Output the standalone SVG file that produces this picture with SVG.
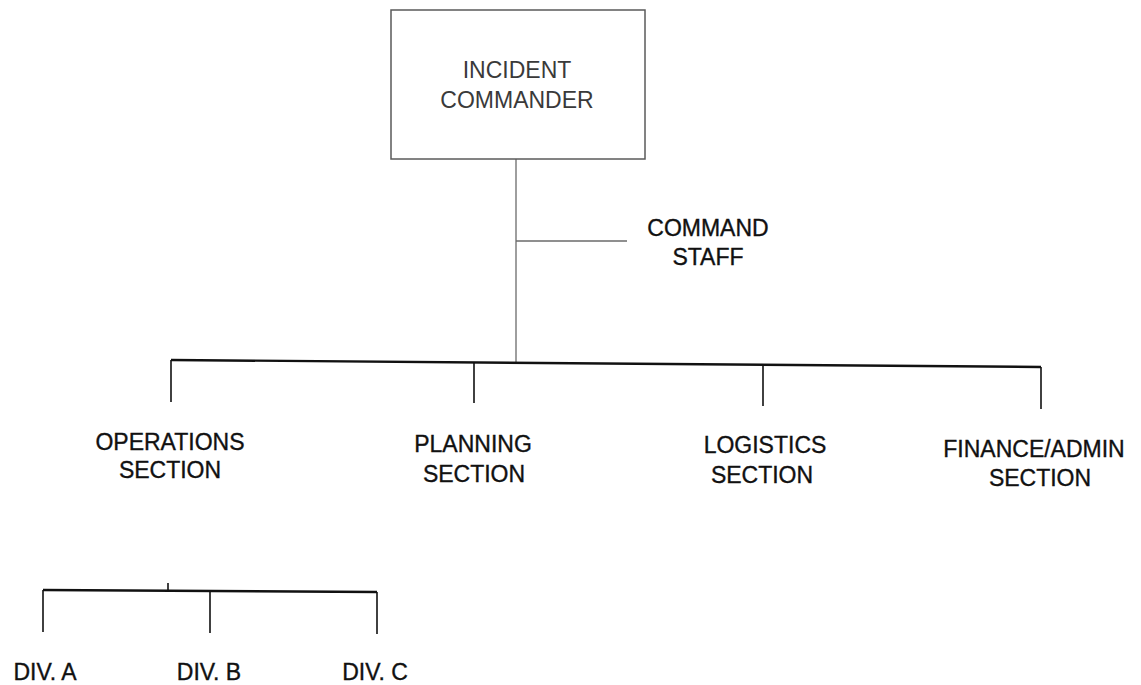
<svg xmlns="http://www.w3.org/2000/svg" width="1141" height="685" viewBox="0 0 1141 685">
<style>
.bg{fill:#ffffff}
.box{fill:#ffffff;stroke:#5a5a5a;stroke-width:1.5}
.thin{stroke:#6a6a6a;stroke-width:1.3;fill:none}
.thick{stroke:#111111;stroke-width:2.4;fill:none}
.med{stroke:#111111;stroke-width:1.6;fill:none}
.t{font-family:"Liberation Sans",Arial,sans-serif;font-size:23px;text-anchor:middle;fill:#111111;stroke:#111111;stroke-width:0.35}
.tg{font-family:"Liberation Sans",Arial,sans-serif;font-size:23px;text-anchor:middle;fill:#3a3a3a}
</style>
<rect class="bg" x="0" y="0" width="1141" height="685"/>
<g id="connectors">
<line class="thin" x1="516" y1="159" x2="516" y2="363"/>
<line class="thin" x1="516" y1="241" x2="627" y2="241"/>
<line class="thick" x1="171" y1="360" x2="1041" y2="367"/>
<line class="med" x1="171" y1="360" x2="171" y2="402"/>
<line class="med" x1="474" y1="363" x2="474" y2="403"/>
<line class="med" x1="763" y1="365" x2="763" y2="406"/>
<line class="med" x1="1041" y1="367" x2="1041" y2="409"/>
<line class="med" x1="168" y1="583" x2="168" y2="590"/>
<line class="thick" x1="43" y1="590" x2="377" y2="592"/>
<line class="med" x1="43" y1="590" x2="43" y2="632"/>
<line class="med" x1="210" y1="591" x2="210" y2="633"/>
<line class="med" x1="377" y1="592" x2="377" y2="634"/>
</g>
<g id="incident-commander">
<rect class="box" x="391" y="10" width="254" height="149"/>
<text class="tg" x="517" y="78">INCIDENT</text>
<text class="tg" x="517" y="108">COMMANDER</text>
</g>
<g id="command-staff">
<text class="t" x="708" y="236">COMMAND</text>
<text class="t" x="708" y="265">STAFF</text>
</g>
<g id="operations">
<text class="t" x="170" y="450">OPERATIONS</text>
<text class="t" x="170" y="478">SECTION</text>
</g>
<g id="planning">
<text class="t" x="473" y="452">PLANNING</text>
<text class="t" x="474" y="482">SECTION</text>
</g>
<g id="logistics">
<text class="t" x="765" y="453">LOGISTICS</text>
<text class="t" x="762" y="483">SECTION</text>
</g>
<g id="finance-admin">
<text class="t" x="1034" y="457">FINANCE/ADMIN</text>
<text class="t" x="1040" y="486">SECTION</text>
</g>
<g id="div-a"><text class="t" x="45" y="680">DIV. A</text></g>
<g id="div-b"><text class="t" x="209" y="680">DIV. B</text></g>
<g id="div-c"><text class="t" x="375" y="680">DIV. C</text></g>
</svg>
